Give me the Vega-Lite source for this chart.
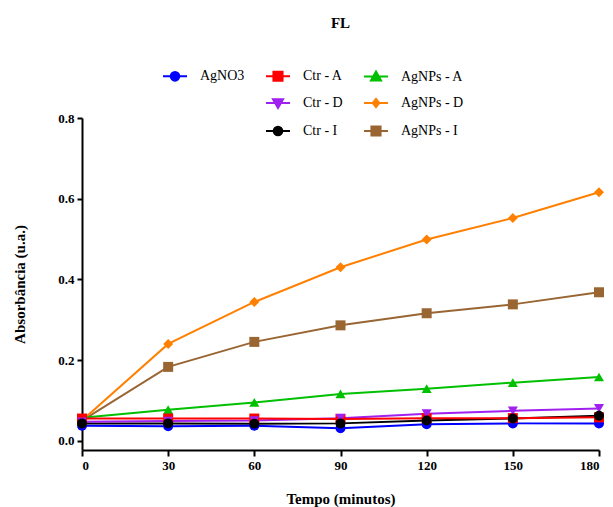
{
  "$schema": "https://vega.github.io/schema/vega-lite/v6.json",
  "autosize": {"type": "none"},
  "width": 517,
  "height": 332,
  "padding": {"left": 82, "top": 118, "right": 14, "bottom": 57},
  "background": "white",
  "title": {"text": "FL", "font": "Times New Roman", "fontSize": 15, "fontWeight": "bold", "color": "black", "anchor": "middle", "offset": 32},
  "config": {
    "view": {"stroke": null},
    "axis": {"grid": false, "domainColor": "black", "domainWidth": 2, "tickColor": "black", "tickWidth": 2, "labelFont": "Times New Roman", "labelFontWeight": "bold", "labelFontSize": 13, "labelColor": "black", "titleFont": "Times New Roman", "titleFontWeight": "bold", "titleFontSize": 15, "titleColor": "black"},
    "legend": {"labelFont": "Times New Roman"}
  },
  "data": {"values": [
    {"t": 0, "s": "AgNPs - I", "v": 0.050}, {"t": 30, "s": "AgNPs - I", "v": 0.183}, {"t": 60, "s": "AgNPs - I", "v": 0.245}, {"t": 90, "s": "AgNPs - I", "v": 0.286}, {"t": 120, "s": "AgNPs - I", "v": 0.316}, {"t": 150, "s": "AgNPs - I", "v": 0.338}, {"t": 180, "s": "AgNPs - I", "v": 0.368},
    {"t": 0, "s": "AgNPs - D", "v": 0.050}, {"t": 30, "s": "AgNPs - D", "v": 0.240}, {"t": 60, "s": "AgNPs - D", "v": 0.344}, {"t": 90, "s": "AgNPs - D", "v": 0.430}, {"t": 120, "s": "AgNPs - D", "v": 0.499}, {"t": 150, "s": "AgNPs - D", "v": 0.552}, {"t": 180, "s": "AgNPs - D", "v": 0.616},
    {"t": 0, "s": "AgNPs - A", "v": 0.057}, {"t": 30, "s": "AgNPs - A", "v": 0.077}, {"t": 60, "s": "AgNPs - A", "v": 0.095}, {"t": 90, "s": "AgNPs - A", "v": 0.116}, {"t": 120, "s": "AgNPs - A", "v": 0.129}, {"t": 150, "s": "AgNPs - A", "v": 0.144}, {"t": 180, "s": "AgNPs - A", "v": 0.158},
    {"t": 0, "s": "Ctr - I", "v": 0.043}, {"t": 30, "s": "Ctr - I", "v": 0.043}, {"t": 60, "s": "Ctr - I", "v": 0.042}, {"t": 90, "s": "Ctr - I", "v": 0.043}, {"t": 120, "s": "Ctr - I", "v": 0.050}, {"t": 150, "s": "Ctr - I", "v": 0.055}, {"t": 180, "s": "Ctr - I", "v": 0.062},
    {"t": 0, "s": "Ctr - D", "v": 0.047}, {"t": 30, "s": "Ctr - D", "v": 0.049}, {"t": 60, "s": "Ctr - D", "v": 0.050}, {"t": 90, "s": "Ctr - D", "v": 0.056}, {"t": 120, "s": "Ctr - D", "v": 0.067}, {"t": 150, "s": "Ctr - D", "v": 0.074}, {"t": 180, "s": "Ctr - D", "v": 0.080},
    {"t": 0, "s": "Ctr - A", "v": 0.055}, {"t": 30, "s": "Ctr - A", "v": 0.055}, {"t": 60, "s": "Ctr - A", "v": 0.055}, {"t": 90, "s": "Ctr - A", "v": 0.054}, {"t": 120, "s": "Ctr - A", "v": 0.056}, {"t": 150, "s": "Ctr - A", "v": 0.056}, {"t": 180, "s": "Ctr - A", "v": 0.058},
    {"t": 0, "s": "AgNO3", "v": 0.037}, {"t": 30, "s": "AgNO3", "v": 0.036}, {"t": 60, "s": "AgNO3", "v": 0.037}, {"t": 90, "s": "AgNO3", "v": 0.031}, {"t": 120, "s": "AgNO3", "v": 0.041}, {"t": 150, "s": "AgNO3", "v": 0.043}, {"t": 180, "s": "AgNO3", "v": 0.043}
  ]},
  "encoding": {
    "x": {"field": "t", "type": "quantitative", "scale": {"domain": [0, 180], "nice": false}, "axis": {"title": "Tempo (minutos)", "values": [0, 30, 60, 90, 120, 150, 180], "tickSize": 6, "labelPadding": 3, "titlePadding": 19}},
    "y": {"field": "v", "type": "quantitative", "scale": {"domain": [-0.023, 0.8], "nice": false, "zero": false}, "axis": {"title": "Absorbância (u.a.)", "values": [0, 0.2, 0.4, 0.6, 0.8], "format": ".1f", "tickSize": 5, "labelPadding": 3, "titlePadding": 30}},
    "color": {"field": "s", "type": "nominal",
      "scale": {"domain": ["AgNO3", " ", "  ", "Ctr - A", "Ctr - D", "Ctr - I", "AgNPs - A", "AgNPs - D", "AgNPs - I"], "range": ["#0000FF", "#FFFFFF", "#FFFFFF", "#FF0000", "#A020F0", "#000000", "#00C000", "#FF8000", "#996633"]},
      "legend": {"title": null, "orient": "none", "legendX": 80, "legendY": -55, "columns": 3, "columnPadding": 17, "rowPadding": 5, "symbolSize": 576, "symbolStrokeWidth": 2, "labelOffset": 12, "labelFont": "Times New Roman", "labelFontSize": 14, "labelColor": "black",
        "encode": {"symbols": {"update": {
          "shape": {"signal": "datum.value === 'AgNO3' || datum.value === 'Ctr - I' ? 'M-1,0H1M0.36,0A0.36,0.36 0 1,1 -0.36,0A0.36,0.36 0 1,1 0.36,0Z' : (datum.value === 'Ctr - A' || datum.value === 'AgNPs - I') ? 'M-1,0H1M-0.38,-0.38H0.38V0.38H-0.38Z' : datum.value === 'AgNPs - A' ? 'M-1,0H1M0,-0.42L0.42,0.32H-0.42Z' : datum.value === 'Ctr - D' ? 'M-1,0H1M0,0.42L0.42,-0.32H-0.42Z' : datum.value === 'AgNPs - D' ? 'M-1,0H1M0,-0.34L0.27,0L0,0.34L-0.27,0Z' : 'M-1,0H1'"}
        }}}
      }}
  },
  "layer": [
    {
      "mark": {"type": "line", "strokeWidth": 2},
      "encoding": {"detail": {"field": "s"}}
    },
    {
      "mark": {"type": "point", "filled": true, "opacity": 1, "size": 100},
      "encoding": {
        "shape": {"field": "s", "type": "nominal", "legend": null,
          "scale": {"domain": ["AgNO3", "Ctr - A", "Ctr - D", "Ctr - I", "AgNPs - A", "AgNPs - D", "AgNPs - I"], "range": ["circle", "square", "triangle-down", "circle", "triangle-up", "diamond", "square"]}},
        "order": {"field": "s"}
      }
    }
  ]
}
